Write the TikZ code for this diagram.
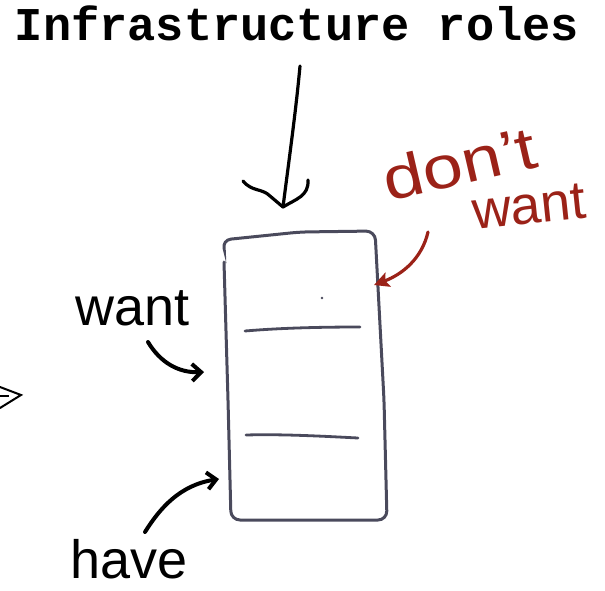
\documentclass[tikz,border=0pt]{standalone}
\usepackage{fontspec}
\setmainfont{Liberation Sans}
\newfontfamily\typewriter{Liberation Mono}
\usetikzlibrary{arrows.meta}
\definecolor{boxgray}{HTML}{4A4A5C}
\definecolor{inkred}{HTML}{9B2218}
\begin{document}
\begin{tikzpicture}[x=1pt,y=-1pt,
  ink/.style={line width=3.2pt,line cap=round,line join=round},
  hand/.style={font=\fontsize{54}{54}\selectfont,inner sep=0pt},
  pointer/.style={line width=4pt,line cap=round,-{Straight Barb[length=9pt,width=17pt,line width=4pt]}},
  redpointer/.style={inkred,line width=3.2pt,line cap=round,-{Stealth[length=15pt,width=15pt,inset=3pt]}}
]
\useasboundingbox (0,0) rectangle (605,590);

% heading
\node[font=\typewriter\bfseries\fontsize{47}{47}\selectfont,anchor=base,inner sep=0pt]
  (title) at (297,40) {Infrastructure roles};

% heading arrow into the list
\coordinate (titlefoot) at (300,66);
\coordinate (boxtop) at (283,207);
\draw[ink] (titlefoot) .. controls (296,110) and (289,160) .. (boxtop);
\draw[ink] (243,181) .. controls (252,192) and (262,188) .. (270,196) -- (boxtop);
\draw[ink] (308,180) .. controls (309,196) and (296,199) .. (boxtop);

% the stack of roles
\draw[boxgray,line width=3pt,line cap=round,rounded corners=9pt]
  (224,262) -- (228,400) -- (231,520) -- (387,520) -- (384,400) -- (375,231)
  -- (300,232) -- (222,240) -- (224,248);
\draw[boxgray,line width=2.8pt,line cap=round] (245,331) .. controls (280,328) and (320,327) .. (360,327);
\draw[boxgray,line width=2.8pt,line cap=round] (246,435) .. controls (280,434) and (320,436) .. (358,438);
\fill[boxgray] (322,298) circle (1.3pt);

\coordinate (wantpt) at (204,372);
\coordinate (havept) at (219,479);
\coordinate (dontpt) at (374,285);

% labels
\node[hand,anchor=base west] (want) at (75,325) {want};
\node[hand,anchor=base west] (have) at (70,578) {have};
\node[hand,inkred,anchor=base west,rotate=13,xscale=1.2,
  font=\fontsize{60}{60}\selectfont] (dont) at (388,202) {don’t};
\node[hand,inkred,anchor=base west,rotate=6,font=\fontsize{54}{54}\selectfont] (dwant) at (474,230) {want};

% pointers to the stack
\coordinate (wantfoot) at (148,342);
\coordinate (havefoot) at (145,532);
\coordinate (dontfoot) at (428,232);
\draw[pointer] (wantfoot) .. controls (160,362) and (178,373) .. (wantpt);
\draw[pointer] (havefoot) .. controls (160,508) and (180,485) .. (havept);
\draw[redpointer] (dontfoot) .. controls (422,258) and (403,274) .. (dontpt);

% arrow tip entering from the left edge
\draw[line width=2pt,line cap=round,line join=miter] (0,387) -- (21,395) -- (0,408);
\draw[line width=2pt] (0,396) -- (9,396);
\end{tikzpicture}
\end{document}
